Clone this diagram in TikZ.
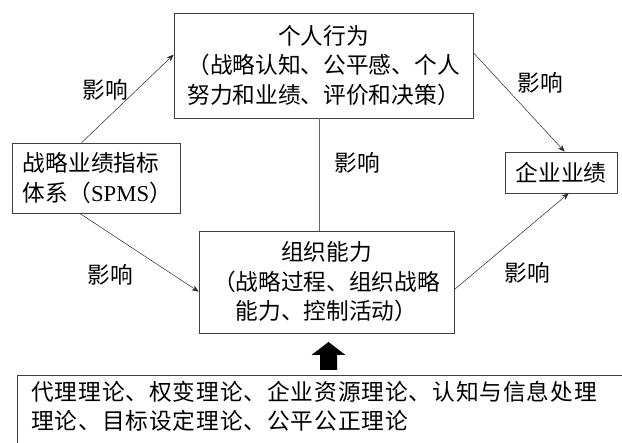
\documentclass[tikz,border=0pt]{standalone}
\usepackage{fontspec}
\setmainfont{Noto Sans CJK SC}
\newfontfamily\latinserif{Liberation Serif}
\usetikzlibrary{arrows.meta,calc}
\newcommand{\cjkfs}{\fontsize{22.7}{29.5}\selectfont}
\begin{document}
\begin{tikzpicture}[x=1pt,y=-1pt,
  boxstyle/.style={draw=black!75, line width=0.7pt, inner sep=0pt, align=center, font=\cjkfs},
  lbl/.style={font=\cjkfs, inner sep=0pt},
  arr/.style={-{Stealth[length=7pt,width=5.5pt]}, line width=0.5pt, draw=black!85},
  plainline/.style={line width=0.7pt, draw=black!60}]
\useasboundingbox (0,0) rectangle (622,443);
\clip (0,0) rectangle (622,443);

\node[boxstyle, minimum width=299pt, minimum height=105pt] (top) at (323.5,65.5)
  {个人行为\\（战略认知、公平感、个人\\努力和业绩、评价和决策）};
\node[boxstyle, align=left, text width=146pt, inner xsep=11pt, minimum height=70pt] (spms) at (96,178)
  {战略业绩指标\\体系（{\latinserif SPMS}）};
\node[boxstyle, minimum width=255pt, minimum height=102pt] (mid) at (326.5,282)
  {组织能力\\（战略过程、组织战略\\能力、控制活动）};
\node[boxstyle, minimum width=112pt, minimum height=41pt] (perf) at (561,172.5) {企业业绩};

\node[anchor=north west, inner xsep=14pt, inner ysep=6pt, align=left, text width=600pt,
  font=\cjkfs\addfontfeature{LetterSpace=4}] (theory) at (17,375)
  {代理理论、权变理论、企业资源理论、认知与信息处理\\理论、目标设定理论、公平公正理论};
\draw[draw=black!75, line width=0.7pt] (theory.north west) rectangle ++(640,100);

\node[lbl] (l1) at (105,90) {影响};
\node[lbl] (l2) at (110,275) {影响};
\node[lbl] (l3) at (357,163) {影响};
\node[lbl] (l4) at (540,83) {影响};
\node[lbl] (l5) at (527,273) {影响};

\draw[arr] ([xshift=70pt]spms.north west) -- ([yshift=-42pt]top.north west);
\draw[arr] ([xshift=68pt]spms.south west) -- ([yshift=-61pt]mid.north west);
\draw[arr] ([yshift=-40pt]top.north east) -- ([xshift=60pt]perf.north west);
\draw[arr] ([yshift=-59pt]mid.north east) -- ([xshift=64pt]perf.south west);
\draw[plainline] ([xshift=-4.5pt]top.south) -- ([xshift=-4.5pt]top.south |- mid.north);

\coordinate (tip) at (328.5,342);
\fill[black] (tip) -- ++(17,13) -- ++(-8.5,0) -- ++(0,15) -- ++(-17,0) -- ++(0,-15) -- ++(-8.5,0) -- cycle;
\end{tikzpicture}
\end{document}
